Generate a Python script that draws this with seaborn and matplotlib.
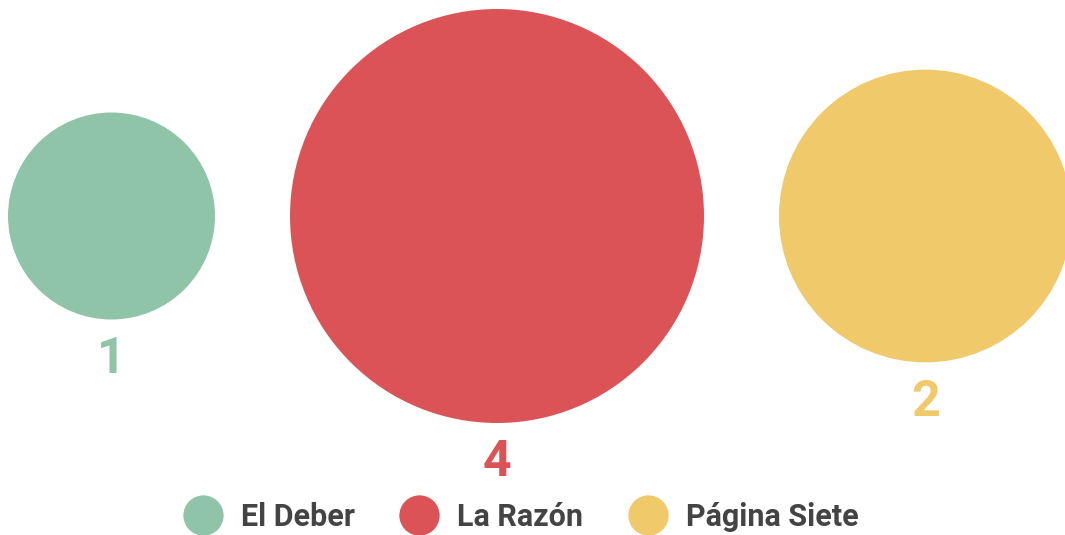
import matplotlib
matplotlib.use("Agg")
import numpy as np
import pandas as pd
import matplotlib.pyplot as plt
from matplotlib.lines import Line2D
import seaborn as sns

# data
papers = ["El Deber", "La Razón", "Página Siete"]
counts = [1, 4, 2]
colors = ["#8fc4a8", "#dc5357", "#efc96a"]

W, H, DPI = 1065, 535, 100
R1 = 103.5      # radius (px) of a bubble with value 1
GAP = 75        # px between bubbles
CY = 216        # vertical centre of the bubbles


def bubble_layout(values):
    """radii proportional to sqrt(value), packed left to right"""
    radii = R1 * np.sqrt(np.array(values, dtype=float))
    xs = []
    x = 8
    for r in radii:
        xs.append(x + r)
        x += 2 * r + GAP
    return np.array(xs), radii


def main():
    sns.set_style("white")
    plt.rcParams['font.family'] = ['Roboto', 'DejaVu Sans']

    xs, radii = bubble_layout(counts)
    df = pd.DataFrame({"paper": papers, "count": counts, "x": xs, "y": CY,
                       "s": (2 * radii * 72 / DPI) ** 2})

    fig = plt.figure(figsize=(W / DPI, H / DPI), dpi=DPI)
    ax = fig.add_axes([0, 0, 1, 1])
    sns.scatterplot(data=df, x="x", y="y", hue="paper", palette=colors,
                    size="s", sizes=(df.s.min(), df.s.max()), linewidth=0,
                    legend=False, ax=ax)
    ax.set_xlim(0, W)
    ax.set_ylim(H, 0)
    ax.axis("off")

    # value labels under each bubble
    for x, r, v, c in zip(xs, radii, counts, colors):
        ax.text(x, CY + r + 40, str(v), color=c, fontsize=36,
                fontweight="bold", ha="center", va="center")

    handles = [Line2D([], [], marker="o", linestyle="", markersize=29,
                      markerfacecolor=c, markeredgewidth=0) for c in colors]
    fig.legend(handles, papers, loc="lower center", ncol=3, frameon=False,
               bbox_to_anchor=(0.484, -0.046), handletextpad=0.25,
               columnspacing=1.1, prop={"size": 22, "weight": "bold"},
               labelcolor="#444444")

    fig.savefig("out.png", dpi=DPI)


if __name__ == '__main__':
    main()
